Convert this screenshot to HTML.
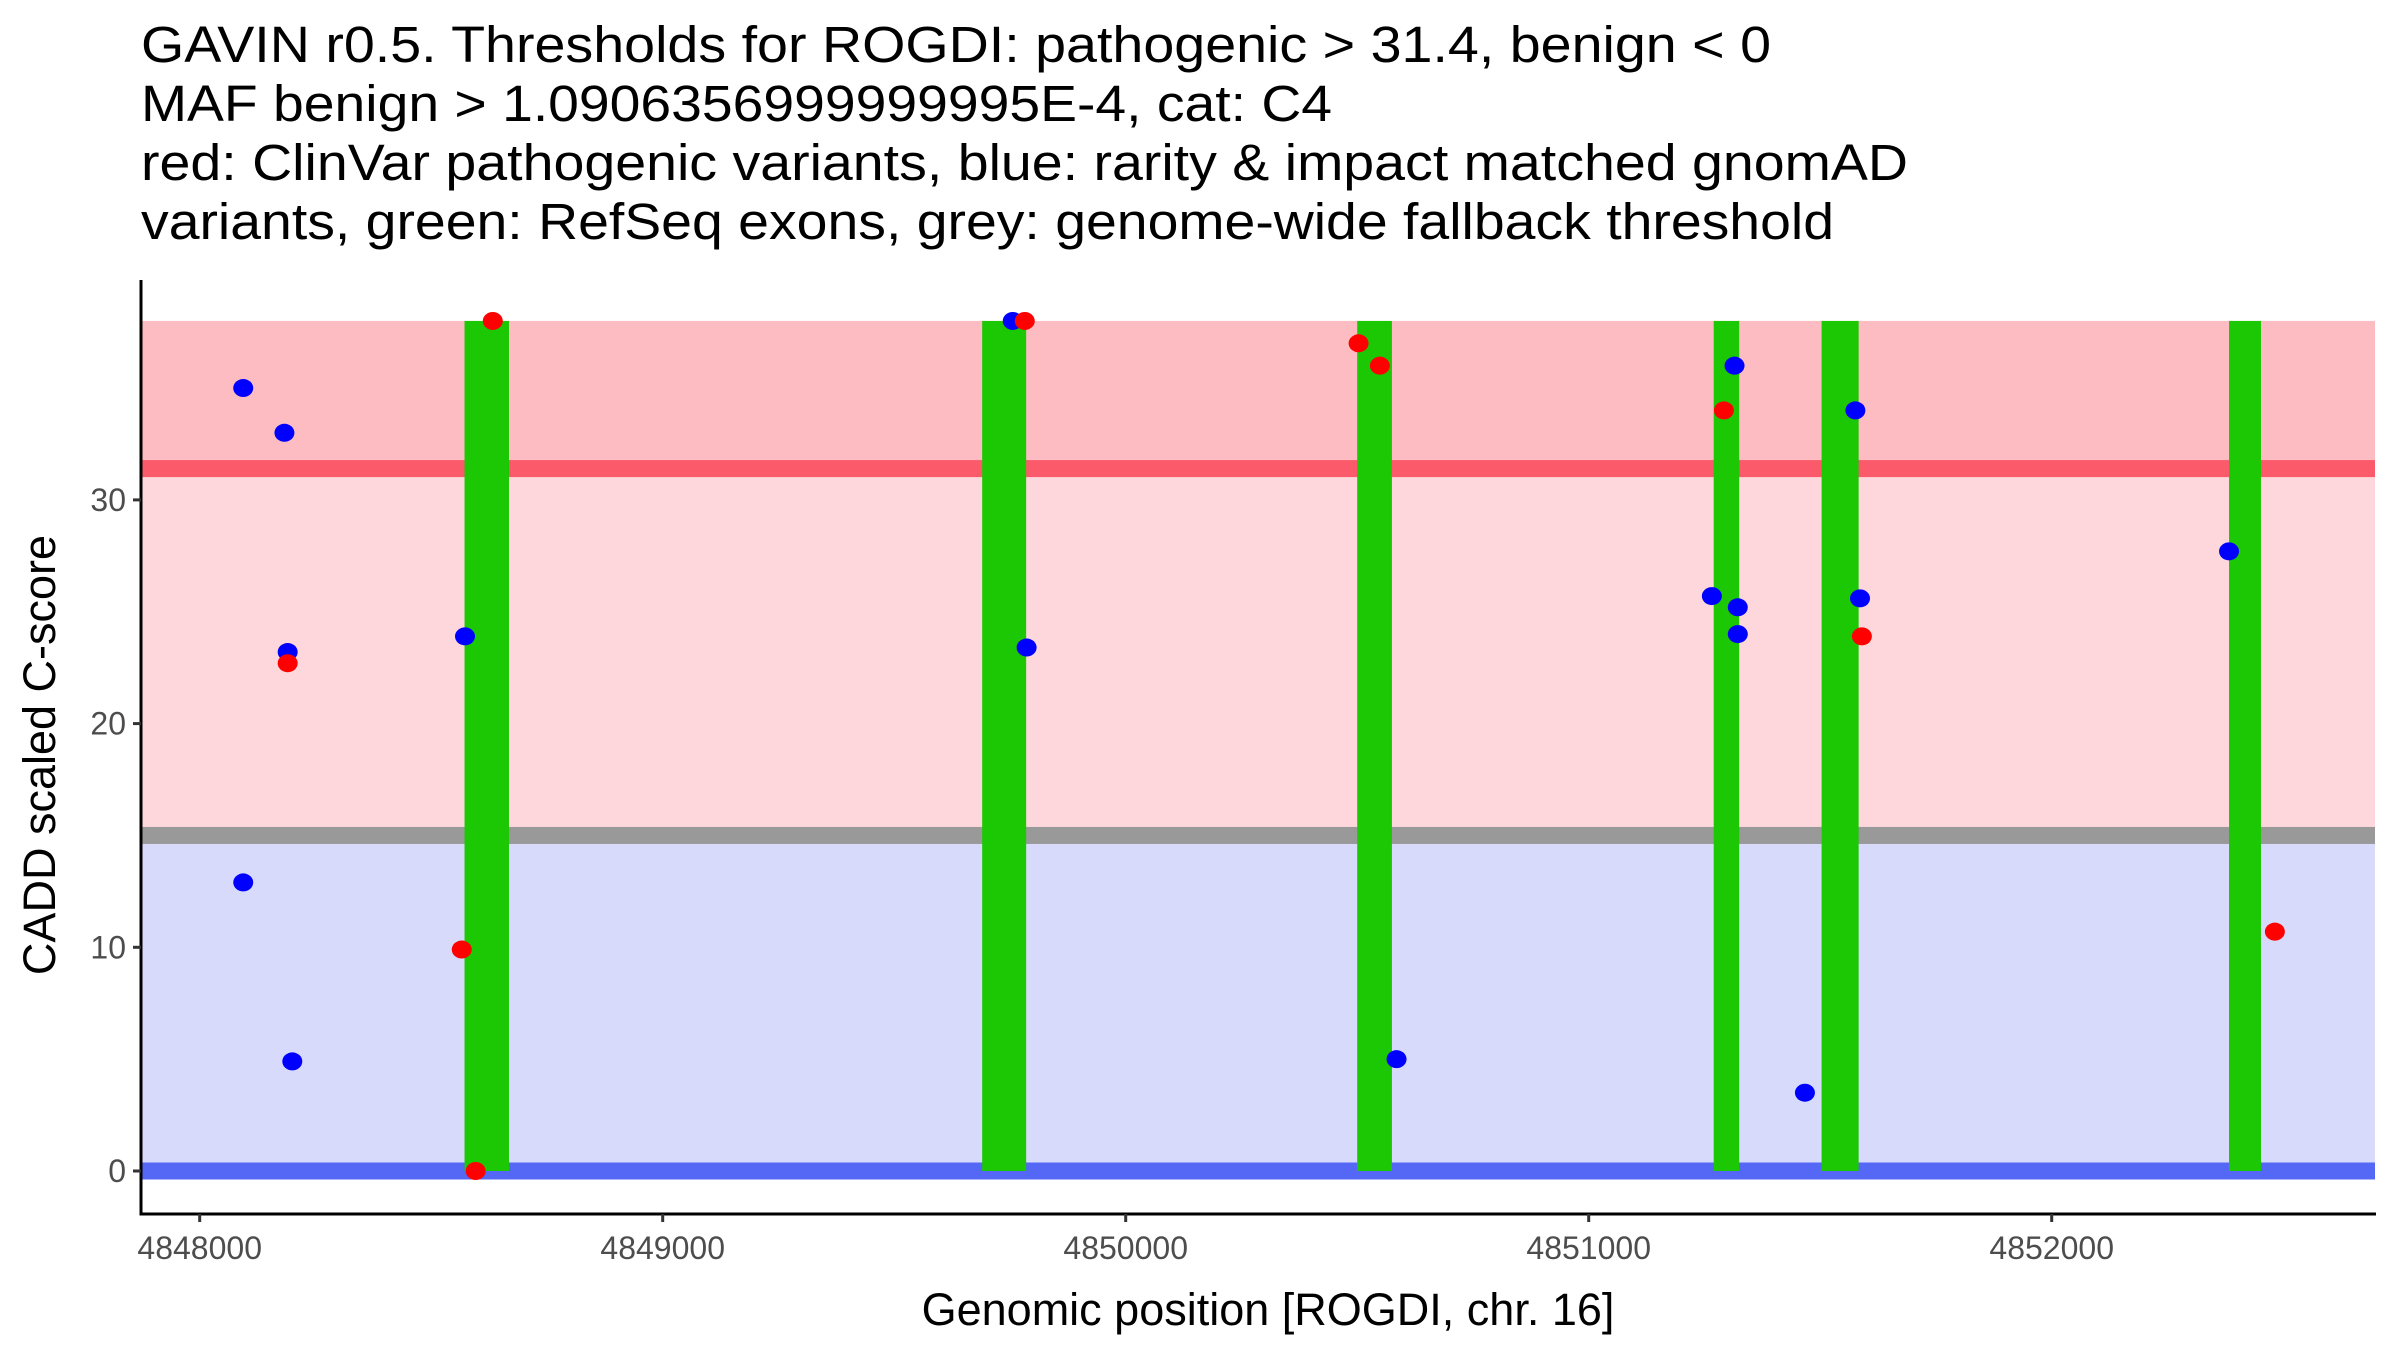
<!DOCTYPE html>
<html><head><meta charset="utf-8"><style>
body{margin:0;background:#fff}
svg text{font-family:"Liberation Sans",Arial,sans-serif}
</style></head><body>
<svg id="chart" width="2400" height="1350" xmlns="http://www.w3.org/2000/svg">
<g font-size="51" fill="#000">
<text x="141" y="62" textLength="1630" lengthAdjust="spacingAndGlyphs">GAVIN r0.5. Thresholds for ROGDI: pathogenic &gt; 31.4, benign &lt; 0</text>
<text x="141" y="121" textLength="1191" lengthAdjust="spacingAndGlyphs">MAF benign &gt; 1.0906356999999995E-4, cat: C4</text>
<text x="141" y="180" textLength="1767" lengthAdjust="spacingAndGlyphs">red: ClinVar pathogenic variants, blue: rarity &amp; impact matched gnomAD</text>
<text x="141" y="239" textLength="1693" lengthAdjust="spacingAndGlyphs">variants, green: RefSeq exons, grey: genome-wide fallback threshold</text>
</g>
<g id="bands"></g><g id="lines"></g><g id="exons"></g><g id="pts"></g><g id="axes"></g>
<text transform="translate(55,755) rotate(-90)" text-anchor="middle" font-size="45">CADD scaled C-score</text>
<text x="1268" y="1325" text-anchor="middle" font-size="45">Genomic position [ROGDI, chr. 16]</text>
</svg>
<script>
const xTicks=[4848000,4849000,4850000,4851000,4852000];
const yTicks=[0,10,20,30];
const exonStart=[4848572,4849690,4850500,4851270,4851503,4852383];
const exonEnd=[4848668,4849785,4850575,4851325,4851583,4852452];
const blueX=[4848094,4848183,4848190,4848094,4848200,4848573,4849756,4849786,4850585,4851315,4851266,4851322,4851322,4851467,4851576,4851586,4852383];
const blueY=[35.0,33.0,23.2,12.9,4.9,23.9,38,23.4,5.0,36.0,25.7,25.2,24.0,3.5,34.0,25.6,27.7];
const redX=[4848633,4848190,4848566,4848596,4849782,4850503,4850549,4851292,4851590,4852482];
const redY=[38,22.7,9.9,0,38,37.0,36.0,34.0,23.9,10.7];
const pathoThr=31.4, fallbackThr=15, benignThr=0, yTop=38;
const NS="http://www.w3.org/2000/svg";
const X=v=>199.7+(v-4848000)*0.463;
const Y=v=>1171-v*22.37;
const L=142,R=2375;
function mk(tag,attrs,parent){const e=document.createElementNS(NS,tag);for(const k in attrs)e.setAttribute(k,attrs[k]);document.getElementById(parent).appendChild(e);return e;}
let e;
e=mk('rect',{x:L,y:Y(yTop),width:R-L,height:Y(pathoThr)-Y(yTop),fill:'#fdbcc1'},'bands');


e=mk('rect',{x:L,y:Y(pathoThr),width:R-L,height:Y(fallbackThr)-Y(pathoThr),fill:'#fdd7db'},'bands');


e=mk('rect',{x:L,y:Y(fallbackThr),width:R-L,height:Y(benignThr)-Y(fallbackThr),fill:'#d7dafb'},'bands');


exonStart.forEach((s,i)=>{
 const r=mk('rect',{x:X(s),y:Y(yTop),width:X(exonEnd[i])-X(s),height:Y(0)-Y(yTop),fill:'#1cc704'},'exons');
 
 
});
[[pathoThr,'#fb5a6a','pathogenic-threshold-line'],[fallbackThr,'#999999','fallback-threshold-line'],[benignThr,'#5468f5','benign-threshold-line']].forEach(d=>{
 const r=mk('rect',{x:L,y:Y(d[0])-8.5,width:R-L,height:17,fill:d[1]},'lines');
 
 
});
blueX.forEach((v,i)=>{
 const c=mk('ellipse',{cx:X(v),cy:Y(blueY[i]),rx:10,ry:9,fill:'#0000ff'},'pts');
 
 
});
redX.forEach((v,i)=>{
 const c=mk('ellipse',{cx:X(v),cy:Y(redY[i]),rx:10,ry:9,fill:'#ff0000'},'pts');
 
 
});
e=mk('line',{x1:141,y1:280,x2:141,y2:1214,stroke:'#000','stroke-width':3},'axes');


e=mk('line',{x1:139.5,y1:1214,x2:2376,y2:1214,stroke:'#000','stroke-width':3},'axes');


xTicks.forEach(t=>{
 mk('line',{x1:X(t),y1:1214,x2:X(t),y2:1222,stroke:'#333','stroke-width':3},'axes');
 const tx=mk('text',{x:X(t),y:1259,'text-anchor':'middle','font-size':32,fill:'#4d4d4d'},'axes');
 tx.textContent=t;
 
 
});
yTicks.forEach(t=>{
 mk('line',{x1:133,y1:Y(t),x2:141,y2:Y(t),stroke:'#333','stroke-width':3},'axes');
 const tx=mk('text',{x:126,y:Y(t)+11,'text-anchor':'end','font-size':32,fill:'#4d4d4d'},'axes');
 tx.textContent=t;
 
 
});
</script>
</body></html>
